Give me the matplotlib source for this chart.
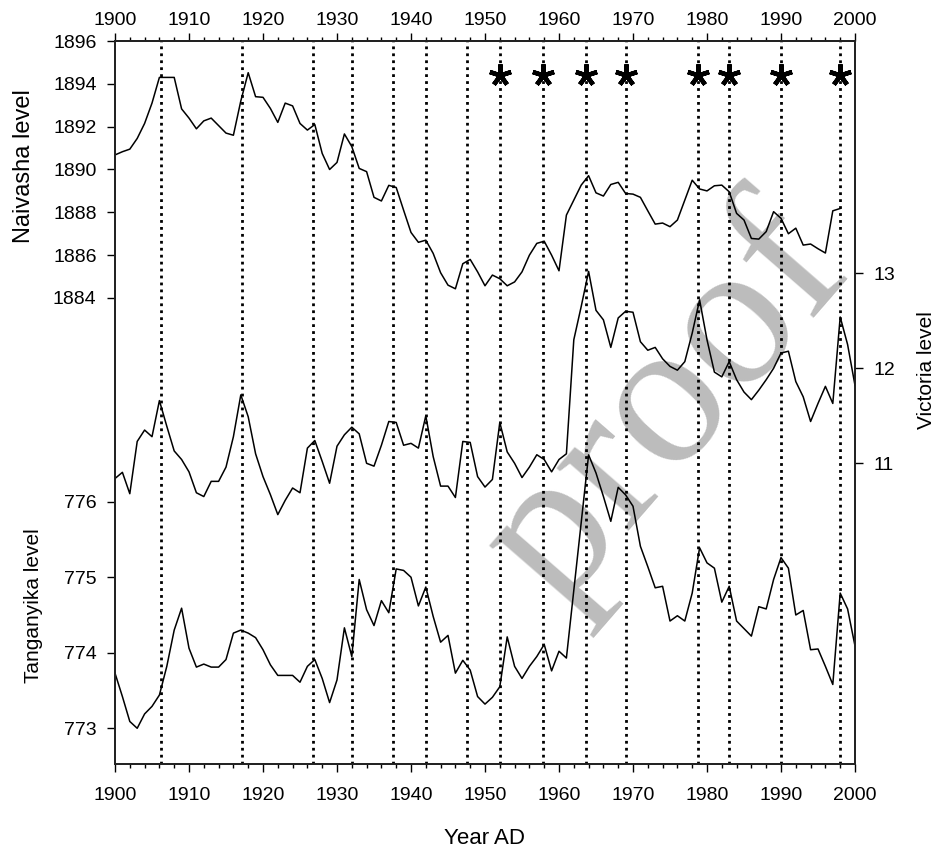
import matplotlib
matplotlib.use("Agg")
from matplotlib import pyplot as plt
from matplotlib.ticker import MultipleLocator

plt.rcParams['font.family'] = ['Liberation Sans', 'DejaVu Sans']

# lake levels
naivasha_years = list(range(1900, 1999))
naivasha = [1890.68, 1890.83, 1890.95, 1891.45, 1892.15, 1893.1, 1894.3, 1894.3, 1894.3, 1892.83,
            1892.4, 1891.9, 1892.27, 1892.4, 1892.05, 1891.7, 1891.6, 1893.2, 1894.52, 1893.4,
            1893.37, 1892.85, 1892.2, 1893.1, 1892.97, 1892.15, 1891.84, 1892.1, 1890.75, 1890.0,
            1890.33, 1891.66, 1891.07, 1890.05, 1889.9, 1888.7, 1888.53, 1889.26, 1889.16, 1888.1,
            1887.06, 1886.6, 1886.7, 1886.08, 1885.18, 1884.6, 1884.43, 1885.6, 1885.8, 1885.22,
            1884.57, 1885.07, 1884.9, 1884.57, 1884.75, 1885.22, 1886.0, 1886.55, 1886.65, 1886.0,
            1885.27, 1887.87, 1888.57, 1889.27, 1889.71, 1888.91, 1888.76, 1889.3, 1889.4, 1888.88,
            1888.85, 1888.7, 1888.07, 1887.45, 1887.5, 1887.33, 1887.64, 1888.57, 1889.5, 1889.09,
            1889.0, 1889.24, 1889.27, 1888.96, 1887.95, 1887.64, 1886.78, 1886.75, 1887.1, 1888.03,
            1887.72, 1887.0, 1887.26, 1886.47, 1886.52, 1886.3, 1886.1, 1888.07, 1888.18]

victoria_years = list(range(1900, 2001))
victoria = [10.84, 10.905, 10.68, 11.23, 11.35, 11.28, 11.66, 11.39, 11.13, 11.04,
            10.91, 10.69, 10.65, 10.81, 10.81, 10.96, 11.28, 11.72, 11.49, 11.1,
            10.86, 10.67, 10.46, 10.61, 10.74, 10.69, 11.16, 11.24, 11.02, 10.79,
            11.18, 11.3, 11.38, 11.31, 11.0, 10.97, 11.19, 11.44, 11.43, 11.19,
            11.21, 11.16, 11.5, 11.07, 10.76, 10.76, 10.64, 11.23, 11.22, 10.86,
            10.75, 10.83, 11.43, 11.12, 11.0, 10.85, 10.96, 11.09, 11.04, 10.91,
            11.04, 11.1, 12.3, 12.65, 13.02, 12.61, 12.51, 12.22, 12.53, 12.6,
            12.59, 12.28, 12.19, 12.22, 12.1, 12.02, 11.98, 12.07, 12.37, 12.72,
            12.3, 11.96, 11.91, 12.07, 11.88, 11.75, 11.67, 11.77, 11.88, 12.0,
            12.16, 12.18, 11.86, 11.7, 11.44, 11.63, 11.81, 11.63, 12.54, 12.25,
            11.82]

tanganyika_years = list(range(1900, 1962)) + list(range(1964, 2001))
tanganyika = [773.73, 773.42, 773.09, 773.0, 773.19, 773.29, 773.44, 773.82, 774.3, 774.59,
              774.06, 773.81, 773.85, 773.81, 773.81, 773.91, 774.26, 774.3, 774.26, 774.2,
              774.04, 773.84, 773.7, 773.7, 773.7, 773.61, 773.82, 773.91, 773.66, 773.34,
              773.64, 774.33, 773.95, 774.97, 774.57, 774.36, 774.69, 774.53, 775.11, 775.09,
              775.0, 774.62, 774.87, 774.48, 774.14, 774.23, 773.73, 773.9, 773.77, 773.42,
              773.32, 773.41, 773.55, 774.21, 773.82, 773.66, 773.82, 773.95, 774.11, 773.76,
              774.02, 773.93,
              776.62, 776.38, 776.07, 775.74, 776.19, 776.09,
              775.94, 775.41, 775.14, 774.86, 774.88, 774.42, 774.49, 774.42, 774.79, 775.39,
              775.19, 775.12, 774.67, 774.88, 774.42, 774.32, 774.22, 774.61, 774.58, 774.97,
              775.26, 775.12, 774.5, 774.56, 774.04, 774.05, 773.82, 773.58, 774.79, 774.58,
              774.09]

event_years = [1906.2, 1917.1, 1926.7, 1932, 1937.5, 1942, 1947.5, 1952, 1957.9,
               1963.7, 1969, 1978.8, 1983, 1990, 1998]
star_years = [1952, 1957.9, 1963.7, 1969, 1978.8, 1983, 1990, 1998]

naivasha_ticks = list(range(1884, 1897, 2))
tanganyika_ticks = [773, 774, 775, 776]
victoria_ticks = [11, 12, 13]
year_ticks = list(range(1900, 2001, 10))

W, H = 935, 848
L, R, T, B = 115, 855, 41, 764
fig = plt.figure(figsize=(W / 100, H / 100), dpi=100)
ax = fig.add_axes([L / W, 1 - B / H, (R - L) / W, (B - T) / H])
ax.patch.set_visible(False)

# faint watermark behind everything
fig.text(815 / W, 1 - 235 / H, "proof", rotation=49, rotation_mode="anchor",
         ha="right", va="center", fontsize=150, family="Liberation Serif",
         color="#bcbcbc", zorder=-1)

axt = ax.twinx()
axt.yaxis.tick_left()
axv = ax.twinx()

ax.plot(naivasha_years, naivasha, color="black", lw=1.1)
axt.plot(tanganyika_years, tanganyika, color="black", lw=1.1)
axv.plot(victoria_years, victoria, color="black", lw=1.1)

for yr in event_years:
    ax.axvline(yr, color="black", lw=2.0, ls=(0, (1, 1.5)))

ax.plot(star_years, [1 - (75 - T) / (B - T)] * len(star_years),
        transform=ax.get_xaxis_transform(), ls="none", marker=(5, 2, 0),
        ms=16, mew=3.2, color="black")

ax.set_xlim(1900, 2000)
ax.set_ylim(1862.24, 1896)
axt.set_ylim(772.527, 782.10)
axv.set_ylim(7.835, 15.445)

ax.set_yticks(naivasha_ticks)
axt.set_yticks(tanganyika_ticks)
axv.set_yticks(victoria_ticks)
ax.set_xticks(year_ticks)
ax.xaxis.set_minor_locator(MultipleLocator(2))

top = ax.secondary_xaxis("top")
top.set_xticks(year_ticks)
top.xaxis.set_minor_locator(MultipleLocator(2))
top.tick_params(which="major", direction="out", length=5.7, width=1, labelsize=14, pad=3)
top.tick_params(which="minor", direction="out", length=3.2, width=1)

ax.tick_params(axis="x", which="major", direction="out", length=5.7, width=1, labelsize=14, pad=10.5)
ax.tick_params(axis="x", which="minor", direction="out", length=3.2, width=1)
for a in (ax, axt, axv):
    a.tick_params(axis="y", direction="out", length=6, width=1, labelsize=14, pad=7.3)
    for s in a.spines.values():
        s.set_linewidth(1.1)
        s.set_color("#222222")
for s in top.spines.values():
    s.set_linewidth(1.1)
    s.set_color("#222222")

fig.text(24.5 / W, 1 - 166 / H, "Naivasha level", rotation=90, ha="center", va="center", fontsize=17)
fig.text(34 / W, 1 - 606 / H, "Tanganyika level", rotation=90, ha="center", va="center", fontsize=15)
fig.text(926.5 / W, 1 - 370 / H, "Victoria level", rotation=90, ha="center", va="center", fontsize=15)
fig.text(484 / W, 1 - 839 / H, "Year AD", ha="center", va="center", fontsize=16)

fig.savefig("out.png", dpi=100)
